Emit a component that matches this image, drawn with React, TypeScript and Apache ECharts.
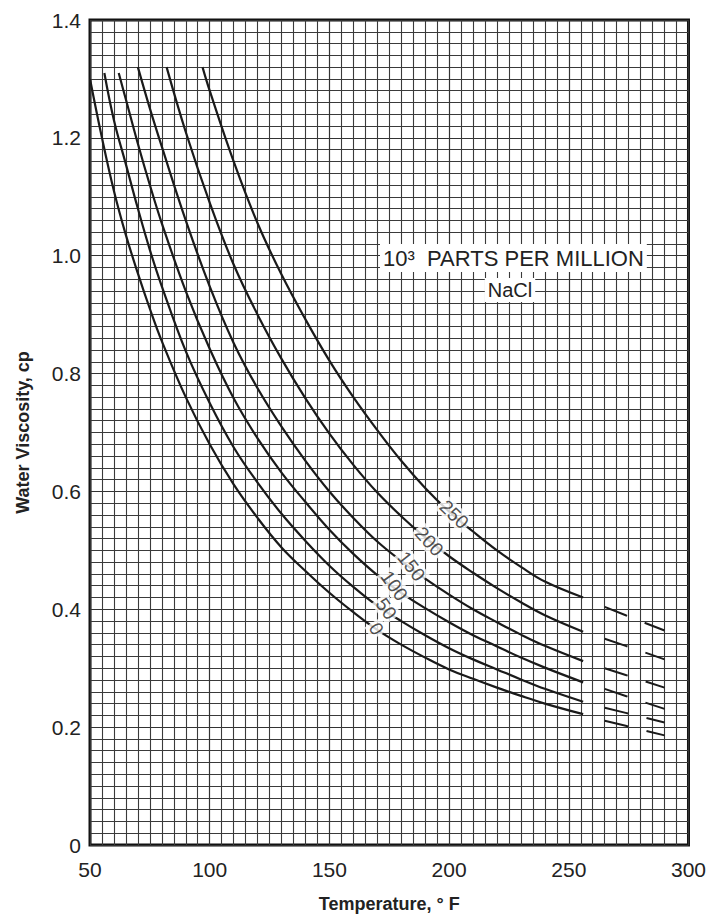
import React, { useEffect, useRef } from "react";
import * as echarts from "echarts";

// NaCl concentration (10^3 ppm) of each curve
const salinity = ["0", "50", "100", "150", "200", "250"];

// Solid curves: [temperature °F, viscosity cp]
const curve0: [number, number][] = [[50,1.30],[55,1.20],[60,1.11],[65,1.035],[70,0.97],[75,0.91],[80,0.855],[90,0.76],[100,0.68],[110,0.612],[120,0.555],[130,0.505],[140,0.465],[150,0.428],[160,0.395],[170,0.365],[180,0.34],[190,0.318],[200,0.298],[210,0.282],[220,0.267],[230,0.253],[240,0.24],[256,0.222]];
const curve50: [number, number][] = [[56,1.31],[60,1.23],[65,1.155],[70,1.08],[75,1.01],[80,0.948],[90,0.838],[100,0.75],[110,0.675],[120,0.615],[130,0.562],[140,0.516],[150,0.474],[160,0.438],[170,0.406],[180,0.38],[190,0.356],[200,0.334],[210,0.315],[220,0.298],[230,0.281],[240,0.265],[256,0.243]];
const curve100: [number, number][] = [[62,1.31],[65,1.265],[70,1.19],[75,1.12],[80,1.055],[90,0.94],[100,0.842],[110,0.758],[120,0.69],[130,0.632],[140,0.582],[150,0.535],[160,0.494],[170,0.458],[180,0.428],[190,0.402],[200,0.378],[210,0.356],[220,0.337],[230,0.318],[240,0.301],[256,0.276]];
const curve150: [number, number][] = [[70,1.32],[75,1.25],[80,1.185],[90,1.06],[100,0.948],[110,0.852],[120,0.775],[130,0.71],[140,0.652],[150,0.6],[160,0.555],[170,0.515],[180,0.482],[190,0.452],[200,0.425],[210,0.4],[220,0.378],[230,0.357],[240,0.338],[256,0.312]];
const curve200: [number, number][] = [[82,1.32],[90,1.21],[100,1.09],[110,0.985],[120,0.9],[130,0.825],[140,0.758],[150,0.698],[160,0.645],[170,0.598],[180,0.558],[190,0.522],[200,0.49],[210,0.462],[220,0.436],[230,0.412],[240,0.39],[256,0.362]];
const curve250: [number, number][] = [[97,1.32],[100,1.28],[110,1.16],[120,1.055],[130,0.968],[140,0.892],[150,0.822],[160,0.76],[170,0.704],[180,0.652],[190,0.606],[200,0.566],[210,0.532],[220,0.5],[230,0.472],[240,0.447],[256,0.42]];

// Dashed extrapolations
const dash0: [number, number][] = [[265,0.211],[278,0.198],[290,0.186]];
const dash50: [number, number][] = [[265,0.233],[278,0.22],[290,0.208]];
const dash100: [number, number][] = [[265,0.265],[278,0.247],[290,0.231]];
const dash150: [number, number][] = [[265,0.3],[278,0.283],[290,0.267]];
const dash200: [number, number][] = [[265,0.35],[278,0.332],[290,0.315]];
const dash250: [number, number][] = [[265,0.404],[278,0.383],[290,0.364]];

// Curve label anchor points and rotation
const labelPoints: [number, number][] = [[169.6,0.367],[173.75,0.401],[177.1,0.44],[184.2,0.473],[191.7,0.515],[202.1,0.561]];
const labelRotation = [-58, -55, -55, -52, -48, -44];

const curves = [curve0, curve50, curve100, curve150, curve200, curve250];
const dashes = [dash0, dash50, dash100, dash150, dash200, dash250];

const FONT = "'Liberation Sans', Arial, sans-serif";

export default function App() {
  const ref = useRef<HTMLDivElement>(null);
  useEffect(() => {
    if (!ref.current) return;
    const chart = echarts.init(ref.current, undefined, { renderer: "svg" });
    const series: any[] = [];
    curves.forEach((c, i) => {
      series.push({
        type: "line",
        name: salinity[i],
        data: c,
        showSymbol: false,
        smooth: 0.4,
        lineStyle: { color: "#1a1a1a", width: 2.2 },
        z: 3,
      });
      series.push({
        type: "line",
        name: salinity[i] + " ext",
        data: dashes[i],
        showSymbol: false,
        smooth: 0.4,
        lineStyle: { color: "#1a1a1a", width: 2, type: [24, 19] },
        z: 3,
      });
    });
    series.push({
      type: "scatter",
      name: "labels",
      symbolSize: 1,
      itemStyle: { color: "rgba(0,0,0,0)" },
      z: 5,
      data: labelPoints.map((p, i) => ({
        value: p,
        name: salinity[i],
        label: { rotate: labelRotation[i] },
      })),
      label: {
        show: true,
        position: "inside",
        formatter: (p: any) => p.name,
        fontFamily: FONT,
        fontSize: 19,
        color: "#222",
        backgroundColor: "#fff",
        padding: [0, 2],
      },
    });

    chart.setOption({
      animation: false,
      backgroundColor: "#fff",
      grid: {
        left: 90,
        right: 19,
        top: 20,
        bottom: 67,
        show: true,
        borderColor: "#111",
        borderWidth: 3,
      },
      xAxis: {
        type: "value",
        min: 50,
        max: 300,
        interval: 50,
        name: "Temperature, ° F",
        nameLocation: "middle",
        nameGap: 50,
        nameTextStyle: { fontFamily: FONT, fontWeight: "bold", fontSize: 18, color: "#222" },
        axisLine: { show: false },
        axisTick: { show: false },
        axisLabel: { fontFamily: FONT, fontSize: 21, color: "#222", margin: 14 },
        splitLine: { show: true, lineStyle: { color: "#333", width: 1.2 } },
        minorTick: { show: false, splitNumber: 10 },
        minorSplitLine: { show: true, lineStyle: { color: "#3a3a3a", width: 1.1 } },
      },
      yAxis: {
        type: "value",
        min: 0,
        max: 1.4,
        interval: 0.2,
        name: "Water Viscosity, cp",
        nameLocation: "middle",
        nameGap: 58,
        nameTextStyle: { fontFamily: FONT, fontWeight: "bold", fontSize: 18, color: "#222" },
        axisLine: { show: false },
        axisTick: { show: false },
        axisLabel: {
          fontFamily: FONT,
          fontSize: 21,
          color: "#222",
          margin: 9,
          formatter: (v: number) => (v === 0 ? "0" : v.toFixed(1)),
        },
        splitLine: { show: true, lineStyle: { color: "#333", width: 1.2 } },
        minorTick: { show: false, splitNumber: 10 },
        minorSplitLine: { show: true, lineStyle: { color: "#3a3a3a", width: 1.1 } },
      },
      graphic: [
        {
          type: "text",
          x: 380,
          y: 258,
          z: 10,
          style: {
            text: "10³  PARTS PER MILLION",
            fontFamily: FONT,
            fontSize: 22,
            fill: "#222",
            verticalAlign: "middle",
            align: "left",
            backgroundColor: "#fff",
            padding: [3, 3],
          },
        },
        {
          type: "text",
          x: 510,
          y: 290,
          z: 10,
          style: {
            text: "NaCl",
            fontFamily: FONT,
            fontSize: 20,
            fill: "#222",
            verticalAlign: "middle",
            align: "center",
            backgroundColor: "#fff",
            padding: [2, 3],
          },
        },
      ],
      series,
    });
    return () => chart.dispose();
  }, []);
  return (
    <div
      ref={ref}
      style={{ position: "fixed", left: 0, top: 0, width: 709, height: 918 }}
    />
  );
}
